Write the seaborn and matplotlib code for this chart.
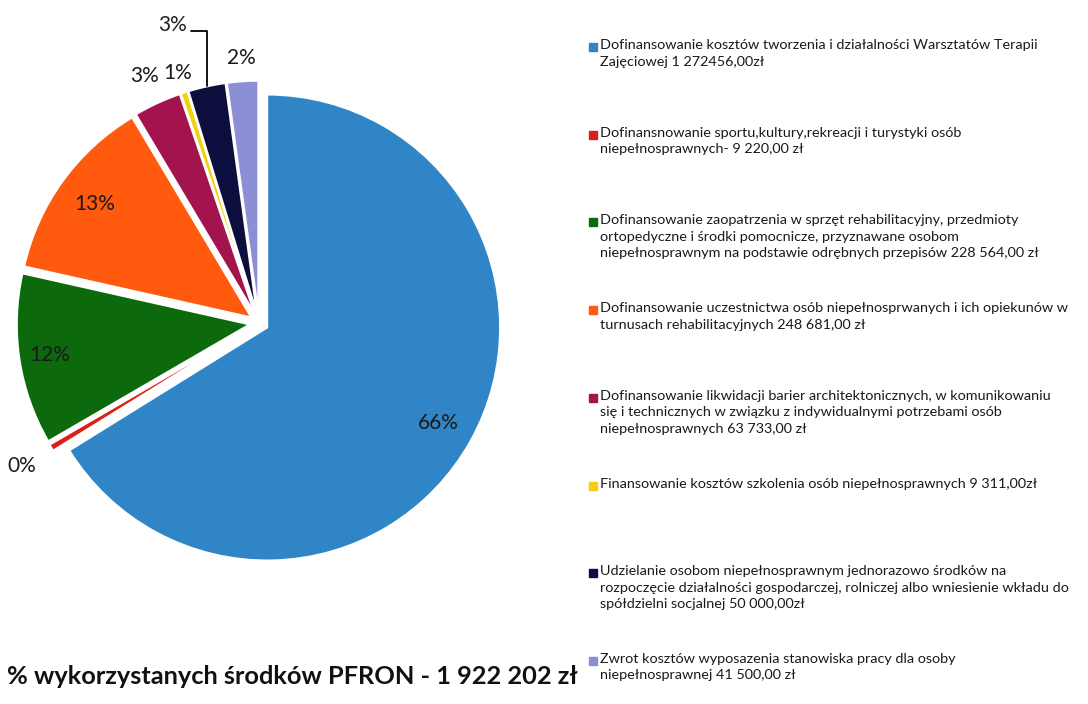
import numpy as np
import matplotlib
matplotlib.use("Agg")
import matplotlib.pyplot as plt
import seaborn as sns

# dane z wykresu (kwoty w zł)
kategorie = [
    "Dofinansowanie kosztów tworzenia i działalności Warsztatów Terapii\nZajęciowej 1 272456,00zł",
    "Dofinansnowanie sportu,kultury,rekreacji i turystyki osób\nniepełnosprawnych- 9 220,00 zł",
    "Dofinansowanie zaopatrzenia w sprzęt rehabilitacyjny, przedmioty\nortopedyczne i środki pomocnicze, przyznawane osobom\nniepełnosprawnym na podstawie odrębnych przepisów 228 564,00 zł",
    "Dofinansowanie uczestnictwa osób niepełnosprwanych i ich opiekunów w\nturnusach rehabilitacyjnych 248 681,00 zł",
    "Dofinansowanie likwidacji barier architektonicznych, w komunikowaniu\nsię i technicznych w związku z indywidualnymi potrzebami osób\nniepełnosprawnych 63 733,00 zł",
    "Finansowanie kosztów szkolenia osób niepełnosprawnych 9 311,00zł",
    "Udzielanie osobom niepełnosprawnym jednorazowo środków na\nrozpoczęcie działalności gospodarczej, rolniczej albo wniesienie wkładu do\nspółdzielni socjalnej 50 000,00zł",
    "Zwrot kosztów wyposazenia stanowiska pracy dla osoby\nniepełnosprawnej 41 500,00 zł",
]
kwoty = [1272456, 9220, 228564, 248681, 63733, 9311, 50000, 41500]
etykiety = ["66%", "0%", "12%", "13%", "3%", "1%", "3%", "2%"]
kolory = ["#2F85C5", "#DD1F1A", "#0C6A0C", "#FF5A0D", "#A3144E", "#F2D20C", "#0C0E3E", "#8C8ED6"]
tytul = "% wykorzystanych środków PFRON - 1 922 202 zł"

sns.set_theme(style="white")
plt.rcParams["font.family"] = ["Lato", "DejaVu Sans"]

W, H = 1088, 704
fig = plt.figure(figsize=(W / 100, H / 100), dpi=100)

# os kolowa: srodek (259, 323) px, promien 233 px
cx, cy, R, L = 259, 323, 233, 1.4
half = L * R
ax = fig.add_axes([(cx - half) / W, (H - cy - half) / H, 2 * half / W, 2 * half / H])

wedges, _ = ax.pie(kwoty, colors=kolory, startangle=90, counterclock=False,
                   explode=[0.04] * len(kwoty),
                   wedgeprops=dict(edgecolor="white", linewidth=1.5))
ax.set_xlim(-L, L)
ax.set_ylim(-L, L)
ax.axis("off")

odl = [0.84, 1.15, 0.87, 0.83, 1.13, 1.09, None, 1.10]
for w, et, d in zip(wedges, etykiety, odl):
    th = np.deg2rad((w.theta1 + w.theta2) / 2)
    x0, y0 = w.center
    if d is None:
        # etykieta z linia odniesienia
        ax.annotate(et, xy=(x0 + np.cos(th), y0 + np.sin(th)),
                    xytext=(-0.373, 1.28), ha="center", va="center",
                    fontsize=15, color="#222222",
                    arrowprops=dict(arrowstyle="-", color="black", lw=1.3,
                                    connectionstyle="angle,angleA=0,angleB=90,rad=0",
                                    relpos=(1, 0.2), shrinkA=1, shrinkB=0))
        continue
    ax.text(x0 + d * np.cos(th), y0 + d * np.sin(th), et, ha="center", va="center",
            fontsize=15, color="#1a1a1a")

# legenda po prawej
y_start, krok = 47, 87.7
for i, (tekst, kol) in enumerate(zip(kategorie, kolory)):
    y = y_start + i * krok
    fig.patches.append(plt.Rectangle((589 / W, (H - y - 4) / H), 8 / W, 8 / H,
                                     transform=fig.transFigure, color=kol))
    fig.text(600 / W, (H - y + 8) / H, tekst, ha="left", va="top",
             fontsize=10.4, color="#1a1a1a", linespacing=1.45)

fig.text(578 / W, (H - 676) / H, tytul, ha="right", va="center",
         fontsize=18.3, fontweight="bold", color="#111111")

fig.savefig("out.png", dpi=100, facecolor="white")
